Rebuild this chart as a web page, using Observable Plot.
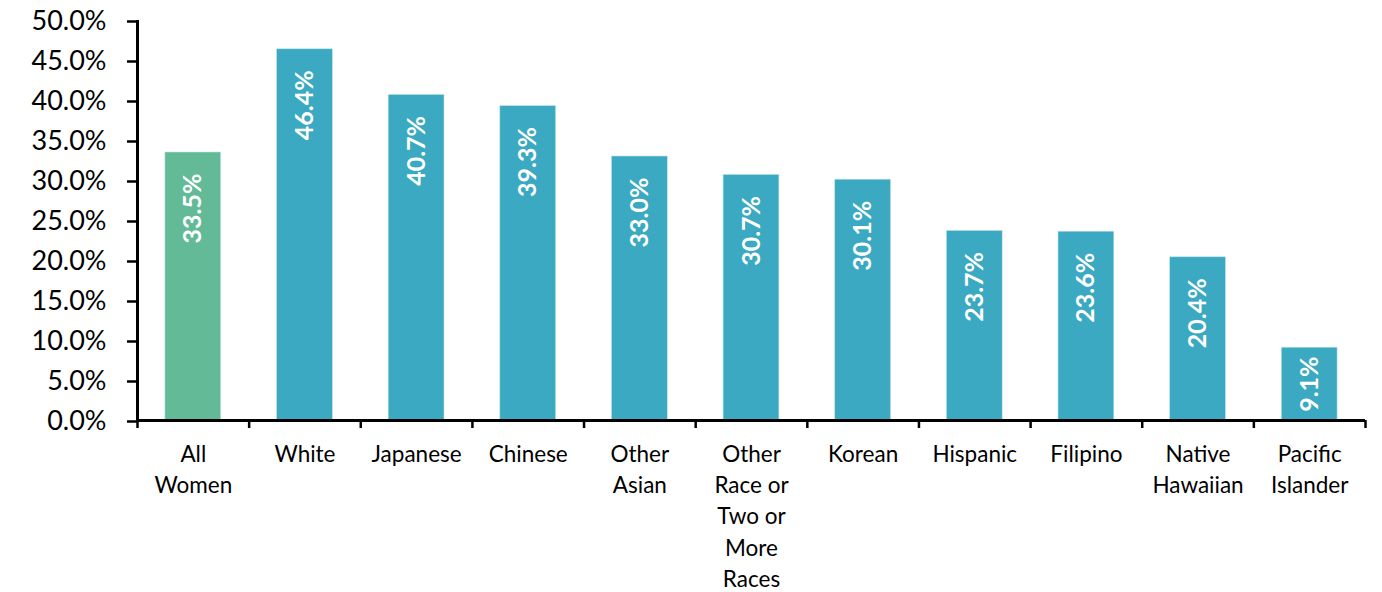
<!DOCTYPE html>
<html>
<head>
<meta charset="utf-8">
<script src="https://cdn.jsdelivr.net/npm/d3@7"></script>
<script src="https://cdn.jsdelivr.net/npm/@observablehq/plot@0.6"></script>
<style>
  html, body { margin: 0; padding: 0; background: #fff; }
  #chart svg { display: block; }
</style>
</head>
<body>
<div id="chart"></div>
<script>
const categories = ["All\nWomen", "White", "Japanese", "Chinese", "Other\nAsian", "Other\nRace or\nTwo or\nMore\nRaces", "Korean", "Hispanic", "Filipino", "Native\nHawaiian", "Pacific\nIslander"];
const values = [33.5, 46.4, 40.7, 39.3, 33.0, 30.7, 30.1, 23.7, 23.6, 20.4, 9.1];
const groups = ["all", "group", "group", "group", "group", "group", "group", "group", "group", "group", "group"];
const yTicks = [0, 5, 10, 15, 20, 25, 30, 35, 40, 45, 50];

const data = categories.map((c, i) => ({i, category: c, value: values[i], group: groups[i]}));
const boundaries = d3.range(-0.5, categories.length, 1);

const font = "Lato, 'Open Sans', sans-serif";

const plot = Plot.plot({
  width: 1382,
  height: 592,
  marginLeft: 137,
  marginRight: 17,
  marginTop: 20,
  marginBottom: 172,
  style: {fontFamily: font, fontSize: "22px", color: "#000", background: "#fff"},
  x: {domain: [-0.5, categories.length - 0.5]},
  y: {domain: [0, 50]},
  color: {domain: ["all", "group"], range: ["#63BA97", "#3AA9C1"]},
  marks: [
    Plot.rectY(data, {x1: d => d.i - 0.25, x2: d => d.i + 0.25, y: "value", fill: "group", stroke: "#BFE3EA", strokeWidth: 0.6}),
    Plot.text(data.filter(d => d.value >= 15), {
      x: "i", y: "value", text: d => d.value.toFixed(1) + "%", rotate: -90,
      textAnchor: "end", dy: 21, fill: "#fff", fontWeight: "bold", fontSize: 25
    }),
    Plot.text(data.filter(d => d.value < 15), {
      x: "i", y: d => d.value / 2, text: d => d.value.toFixed(1) + "%", rotate: -90,
      textAnchor: "middle", fill: "#fff", fontWeight: "bold", fontSize: 25
    }),
    Plot.axisY({ticks: yTicks, tickFormat: d => d.toFixed(1) + "%", tickSize: 10, tickPadding: 21, strokeWidth: 2.5, fontSize: 27, dy: 1, label: null}),
    Plot.axisX({ticks: boundaries, tickFormat: () => "", tickSize: 8, strokeWidth: 2.5, label: null}),
    Plot.axisX({ticks: d3.range(categories.length), tickFormat: i => categories[i], tickSize: 0, tickPadding: 19, lineHeight: 1.39, fontSize: 22.5, label: null}),
    Plot.ruleY([0], {stroke: "#000", strokeWidth: 3}),
    Plot.ruleX([-0.5], {stroke: "#000", strokeWidth: 3})
  ]
});
document.getElementById("chart").appendChild(plot);
</script>
</body>
</html>
